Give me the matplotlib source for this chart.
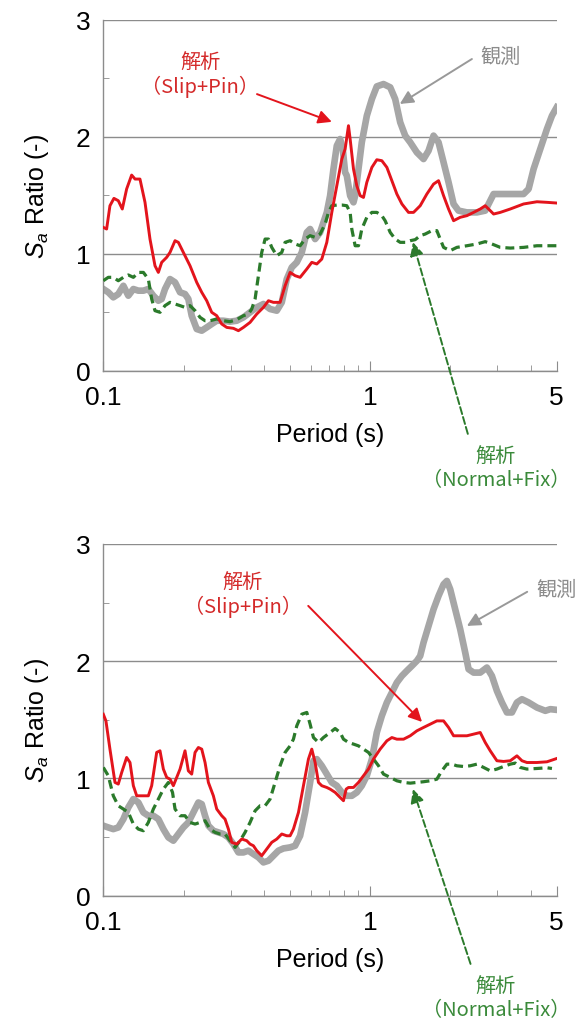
# -*- coding: utf-8 -*-
"""
    Sa ratio spectra : observation vs analyses (two cases)
"""

import matplotlib
matplotlib.use("Agg")
import matplotlib.pyplot as plt
from matplotlib.ticker import FixedLocator, NullFormatter

#========== DATA ==========#

# top panel
period_obs_1 = [0.100, 0.1044, 0.1090, 0.1138, 0.1189, 0.1241, 0.1296, 0.1353, 0.1413, 0.1475,
                0.1540, 0.1608, 0.1655, 0.1703, 0.1778, 0.1857, 0.1939, 0.2024, 0.2083, 0.2144,
                0.2239, 0.2338, 0.2441, 0.2548, 0.2661, 0.2818, 0.2985, 0.3162, 0.3350, 0.3548,
                0.3758, 0.3981, 0.4217, 0.4467, 0.4664, 0.4870, 0.5084, 0.5309, 0.5543, 0.5788,
                0.5957, 0.6219, 0.6494, 0.6683, 0.6879, 0.7079, 0.7286, 0.7499, 0.7718, 0.7893,
                0.8058, 0.8175, 0.8414, 0.8660, 0.8785, 0.9041, 0.9305, 0.9716, 1.015, 1.059,
                1.122, 1.189, 1.241, 1.296, 1.353, 1.413, 1.496, 1.585, 1.655, 1.728,
                1.804, 1.884, 1.967, 2.054, 2.144, 2.304, 2.512, 2.699, 2.818, 2.901,
                3.162, 3.447, 3.758, 3.924, 4.097, 4.340, 4.597, 4.800, 5.0]
ratio_obs_1 = [0.698, 0.670, 0.627, 0.655, 0.726, 0.641, 0.698, 0.684, 0.684, 0.698,
               0.641, 0.598, 0.613, 0.698, 0.783, 0.755, 0.670, 0.655, 0.613, 0.470,
               0.356, 0.342, 0.370, 0.399, 0.427, 0.427, 0.419, 0.427, 0.456, 0.499,
               0.541, 0.570, 0.527, 0.513, 0.584, 0.783, 0.883, 0.926, 1.011, 1.182,
               1.211, 1.125, 1.182, 1.268, 1.353, 1.496, 1.724, 1.923, 1.980, 1.895,
               1.695, 1.667, 1.496, 1.439, 1.496, 1.724, 1.952, 2.179, 2.322, 2.430,
               2.450, 2.422, 2.322, 2.123, 2.009, 1.952, 1.866, 1.809, 1.880, 2.009,
               1.952, 1.781, 1.610, 1.425, 1.368, 1.353, 1.353, 1.368, 1.453, 1.510,
               1.510, 1.510, 1.510, 1.553, 1.724, 1.895, 2.066, 2.179, 2.251]

period_slip_1 = [0.100, 0.1029, 0.1059, 0.1096, 0.1138, 0.1178, 0.1223, 0.1277, 0.1315, 0.1372,
                 0.1433, 0.1496, 0.1562, 0.1608, 0.1655, 0.1728, 0.1778, 0.1857, 0.1911, 0.1995,
                 0.2113, 0.2239, 0.2338, 0.2441, 0.2548, 0.2661, 0.2778, 0.2901, 0.3073, 0.3208,
                 0.3350, 0.3548, 0.3758, 0.3981, 0.4157, 0.4340, 0.4597, 0.4800, 0.5012, 0.5233,
                 0.5464, 0.5788, 0.6043, 0.6310, 0.6588, 0.6879, 0.7182, 0.7499, 0.7830, 0.8058,
                 0.8294, 0.8414, 0.8660, 0.8912, 0.9173, 0.9440, 0.9716, 1.015, 1.059, 1.106,
                 1.155, 1.206, 1.259, 1.315, 1.392, 1.454, 1.540, 1.631, 1.728, 1.804,
                 1.884, 1.967, 2.054, 2.175, 2.304, 2.441, 2.585, 2.699, 2.818, 2.901,
                 3.073, 3.350, 3.758, 4.217, 4.597, 5.0]
ratio_slip_1 = [1.225, 1.211, 1.410, 1.473, 1.453, 1.382, 1.553, 1.672, 1.638, 1.638,
                1.439, 1.125, 0.897, 0.840, 0.926, 0.969, 1.011, 1.111, 1.097, 1.011,
                0.897, 0.755, 0.670, 0.598, 0.499, 0.470, 0.399, 0.370, 0.362, 0.342,
                0.370, 0.413, 0.484, 0.541, 0.598, 0.584, 0.584, 0.726, 0.840, 0.812,
                0.798, 0.869, 0.926, 0.912, 0.954, 1.097, 1.353, 1.581, 1.809, 1.895,
                2.094, 1.980, 1.724, 1.581, 1.496, 1.481, 1.610, 1.738, 1.803, 1.795,
                1.738, 1.624, 1.510, 1.425, 1.353, 1.353, 1.410, 1.510, 1.595, 1.624,
                1.496, 1.382, 1.282, 1.311, 1.325, 1.353, 1.382, 1.410, 1.368, 1.339,
                1.353, 1.382, 1.425, 1.444, 1.439, 1.433]

period_fix_1 = [0.100, 0.1044, 0.1090, 0.1138, 0.1189, 0.1241, 0.1296, 0.1353, 0.1413, 0.1475,
                0.1518, 0.1562, 0.1631, 0.1703, 0.1778, 0.1857, 0.1939, 0.2024, 0.2113, 0.2207,
                0.2304, 0.2406, 0.2512, 0.2661, 0.2818, 0.2985, 0.3162, 0.3350, 0.3497, 0.3599,
                0.3705, 0.3813, 0.3924, 0.4039, 0.4157, 0.4278, 0.4467, 0.4664, 0.4800, 0.5012,
                0.5233, 0.5464, 0.5705, 0.5957, 0.6219, 0.6494, 0.6780, 0.6978, 0.7182, 0.7499,
                0.7830, 0.8175, 0.8414, 0.8535, 0.8785, 0.9041, 0.9305, 0.9716, 1.015, 1.059,
                1.106, 1.138, 1.189, 1.241, 1.296, 1.353, 1.413, 1.475, 1.540, 1.608,
                1.703, 1.778, 1.830, 1.884, 1.995, 2.113, 2.304, 2.512, 2.699, 2.859,
                3.073, 3.350, 3.758, 4.217, 5.0]
ratio_fix_1 = [0.769, 0.798, 0.798, 0.769, 0.798, 0.818, 0.798, 0.840, 0.840, 0.783,
               0.613, 0.513, 0.499, 0.556, 0.584, 0.570, 0.556, 0.541, 0.556, 0.513,
               0.456, 0.427, 0.427, 0.442, 0.427, 0.419, 0.436, 0.470, 0.484, 0.527,
               0.613, 0.812, 1.011, 1.125, 1.125, 1.054, 0.983, 1.011, 1.097, 1.111,
               1.083, 1.068, 1.125, 1.154, 1.140, 1.168, 1.254, 1.353, 1.410, 1.416,
               1.416, 1.410, 1.353, 1.211, 1.068, 1.068, 1.211, 1.311, 1.353, 1.353,
               1.325, 1.282, 1.182, 1.125, 1.097, 1.097, 1.111, 1.120, 1.154, 1.168,
               1.197, 1.197, 1.125, 1.054, 1.026, 1.054, 1.068, 1.083, 1.103, 1.083,
               1.054, 1.048, 1.054, 1.068, 1.068]

# bottom panel
period_obs_2 = [0.100, 0.1044, 0.1090, 0.1138, 0.1189, 0.1241, 0.1296, 0.1353, 0.1413, 0.1475,
                0.1540, 0.1608, 0.1679, 0.1753, 0.1830, 0.1911, 0.1995, 0.2083, 0.2175, 0.2271,
                0.2338, 0.2406, 0.2476, 0.2585, 0.2699, 0.2818, 0.2943, 0.3073, 0.3208, 0.3350,
                0.3497, 0.3652, 0.3813, 0.3981, 0.4157, 0.4340, 0.4532, 0.4732, 0.5012, 0.5233,
                0.5464, 0.5705, 0.5957, 0.6131, 0.6310, 0.6588, 0.6879, 0.7182, 0.7499, 0.7830,
                0.8175, 0.8535, 0.8912, 0.9305, 0.9716, 1.015, 1.059, 1.106, 1.155, 1.206,
                1.259, 1.315, 1.372, 1.433, 1.496, 1.540, 1.585, 1.655, 1.728, 1.804,
                1.884, 1.939, 1.995, 2.083, 2.175, 2.271, 2.338, 2.441, 2.585, 2.738,
                2.859, 2.985, 3.117, 3.255, 3.398, 3.548, 3.705, 3.924, 4.217, 4.532,
                4.732, 5.0]
ratio_obs_2 = [0.597, 0.582, 0.568, 0.582, 0.653, 0.753, 0.824, 0.795, 0.710, 0.682,
               0.682, 0.653, 0.568, 0.497, 0.469, 0.526, 0.582, 0.625, 0.710, 0.795,
               0.781, 0.682, 0.597, 0.554, 0.540, 0.526, 0.497, 0.440, 0.369, 0.369,
               0.384, 0.355, 0.327, 0.284, 0.298, 0.341, 0.384, 0.403, 0.412, 0.426,
               0.511, 0.710, 0.966, 1.151, 1.165, 1.108, 1.037, 0.966, 0.938, 0.881,
               0.852, 0.852, 0.881, 0.938, 1.023, 1.165, 1.392, 1.534, 1.648, 1.733,
               1.818, 1.875, 1.918, 1.960, 2.003, 2.045, 2.159, 2.301, 2.443, 2.557,
               2.656, 2.685, 2.614, 2.443, 2.273, 2.074, 1.932, 1.903, 1.903, 1.946,
               1.875, 1.747, 1.648, 1.563, 1.563, 1.648, 1.676, 1.648, 1.605, 1.577,
               1.591, 1.585]

period_slip_2 = [0.100, 0.1023, 0.1059, 0.1106, 0.1138, 0.1172, 0.1223, 0.1259, 0.1296, 0.1334,
                 0.1413, 0.1475, 0.1518, 0.1585, 0.1631, 0.1679, 0.1728, 0.1778, 0.1830, 0.1884,
                 0.1939, 0.2024, 0.2083, 0.2144, 0.2207, 0.2271, 0.2338, 0.2406, 0.2476, 0.2585,
                 0.2661, 0.2778, 0.2859, 0.2943, 0.3029, 0.3162, 0.3302, 0.3447, 0.3548, 0.3652,
                 0.3758, 0.3924, 0.4097, 0.4278, 0.4467, 0.4664, 0.4870, 0.5012, 0.5158, 0.5386,
                 0.5623, 0.5871, 0.6043, 0.6219, 0.6401, 0.6588, 0.6879, 0.7079, 0.7392, 0.7718,
                 0.7943, 0.8128, 0.8294, 0.8660, 0.9041, 0.9440, 0.9857, 1.029, 1.090, 1.155,
                 1.206, 1.259, 1.334, 1.413, 1.496, 1.585, 1.679, 1.778, 1.884, 1.967,
                 2.054, 2.175, 2.304, 2.441, 2.585, 2.699, 2.818, 2.985, 3.162, 3.350,
                 3.548, 3.705, 3.868, 4.217, 4.597, 5.0]
ratio_slip_2 = [1.548, 1.491, 1.250, 0.966, 0.952, 1.051, 1.179, 1.136, 0.938, 0.852,
                0.852, 0.852, 0.938, 1.222, 1.236, 1.080, 1.009, 0.994, 0.938, 1.009,
                1.080, 1.236, 1.065, 1.037, 1.222, 1.264, 1.250, 1.136, 0.966, 0.852,
                0.739, 0.682, 0.653, 0.568, 0.455, 0.440, 0.483, 0.469, 0.440, 0.426,
                0.384, 0.341, 0.398, 0.455, 0.483, 0.526, 0.511, 0.511, 0.568, 0.710,
                0.938, 1.165, 1.250, 1.136, 0.966, 0.938, 0.923, 0.909, 0.881, 0.838,
                0.810, 0.909, 0.923, 0.923, 0.966, 1.023, 1.080, 1.165, 1.250, 1.321,
                1.349, 1.335, 1.335, 1.364, 1.406, 1.435, 1.463, 1.491, 1.491, 1.435,
                1.364, 1.364, 1.364, 1.378, 1.392, 1.307, 1.236, 1.151, 1.145, 1.151,
                1.193, 1.151, 1.136, 1.136, 1.142, 1.170]

period_fix_2 = [0.100, 0.1044, 0.1090, 0.1138, 0.1189, 0.1241, 0.1296, 0.1353, 0.1413, 0.1475,
                0.1540, 0.1608, 0.1679, 0.1753, 0.1817, 0.1857, 0.1939, 0.2024, 0.2113, 0.2207,
                0.2304, 0.2406, 0.2512, 0.2623, 0.2738, 0.2859, 0.2985, 0.3117, 0.3255, 0.3398,
                0.3548, 0.3705, 0.3868, 0.4039, 0.4217, 0.4403, 0.4597, 0.4800, 0.5012, 0.5158,
                0.5309, 0.5543, 0.5788, 0.5957, 0.6131, 0.6401, 0.6683, 0.7079, 0.7392, 0.7718,
                0.7943, 0.8294, 0.8660, 0.9041, 0.9440, 0.9857, 1.029, 1.075, 1.122, 1.189,
                1.259, 1.334, 1.413, 1.496, 1.585, 1.679, 1.778, 1.857, 1.939, 2.024,
                2.113, 2.239, 2.371, 2.512, 2.661, 2.818, 2.985, 3.162, 3.350, 3.497,
                3.652, 3.868, 4.217, 4.597, 4.800]
ratio_fix_2 = [1.094, 1.023, 0.852, 0.767, 0.739, 0.710, 0.611, 0.568, 0.554, 0.625,
               0.739, 0.824, 0.909, 0.966, 0.881, 0.739, 0.682, 0.682, 0.625, 0.611,
               0.625, 0.639, 0.568, 0.540, 0.526, 0.526, 0.469, 0.412, 0.469, 0.540,
               0.625, 0.724, 0.767, 0.767, 0.824, 0.966, 1.108, 1.222, 1.278, 1.335,
               1.449, 1.548, 1.563, 1.463, 1.349, 1.307, 1.349, 1.392, 1.426, 1.392,
               1.335, 1.307, 1.293, 1.278, 1.250, 1.222, 1.165, 1.108, 1.037, 1.009,
               0.980, 0.966, 0.960, 0.966, 0.972, 0.980, 0.994, 1.065, 1.122, 1.122,
               1.108, 1.102, 1.108, 1.122, 1.094, 1.065, 1.080, 1.102, 1.122, 1.131,
               1.094, 1.080, 1.085, 1.091, 1.085]

x_ticks = [0.1, 1, 5]
x_tick_labels = ["0.1", "1", "5"]
x_minor = [0.2, 0.3, 0.4, 0.5, 0.6, 0.7, 0.8, 0.9, 2, 3, 4]
y_ticks = [0, 1, 2, 3]
y_minor = [0.5, 1.5, 2.5]

#======== STYLE =========#

plt.rcParams['font.family'] = ['Liberation Sans', 'DejaVu Sans']
plt.rcParams['mathtext.fontset'] = 'custom'
plt.rcParams['mathtext.it'] = 'Liberation Sans:italic'
plt.rcParams['mathtext.rm'] = 'Liberation Sans'

JP = ['Noto Sans CJK JP', 'DejaVu Sans']
C_OBS = '#a6a6a6'
C_SLIP = '#e3141c'
C_FIX = '#2b7a2b'
C_AX = '#8c8c8c'
ANNOT_SIZE = 14.5


def setup_axes(ax):
    """
        Axes log, grille horizontale, ticks vers l'interieur
    """
    ax.set_xscale('log')
    ax.set_xlim(0.1, 5)
    ax.set_ylim(0, 3)
    ax.xaxis.set_major_locator(FixedLocator(x_ticks))
    ax.set_xticklabels(x_tick_labels)
    ax.xaxis.set_minor_locator(FixedLocator(x_minor))
    ax.xaxis.set_minor_formatter(NullFormatter())
    ax.yaxis.set_major_locator(FixedLocator(y_ticks))
    ax.yaxis.set_minor_locator(FixedLocator(y_minor))
    for side in ('top', 'right'):
        ax.spines[side].set_visible(False)
    for side in ('left', 'bottom'):
        ax.spines[side].set_color(C_AX)
        ax.spines[side].set_linewidth(1.0)
    ax.grid(axis='y', which='major', color=C_AX, lw=1.0)
    ax.tick_params(axis='both', which='both', direction='in', colors=C_AX,
                   labelcolor='black', labelsize=19)
    ax.tick_params(axis='x', which='major', length=7, pad=10)
    ax.tick_params(axis='x', which='minor', length=4)
    ax.tick_params(axis='y', which='major', length=0, pad=9)
    ax.tick_params(axis='y', which='minor', length=4)
    ax.set_xlabel('Period (s)', fontsize=18, labelpad=10)
    ax.set_ylabel(r'$S_a$ Ratio (-)', fontsize=18, labelpad=18)
    ax.set_axisbelow(True)


def draw_curves(ax, p_obs, r_obs, p_slip, r_slip, p_fix, r_fix):
    ax.plot(p_obs, r_obs, color=C_OBS, lw=4.8, solid_joinstyle='round', zorder=2)
    ax.plot(p_fix, r_fix, color=C_FIX, lw=2.3, dashes=(2.8, 1.6), zorder=3)
    ax.plot(p_slip, r_slip, color=C_SLIP, lw=2.1, zorder=4)


def arrow(ax, tail, head, color, ls='-'):
    ax.annotate('', xy=head, xytext=tail, xycoords='axes fraction',
                textcoords='axes fraction', annotation_clip=False,
                arrowprops=dict(arrowstyle='-|>', color=color, lw=1.4, ls=ls,
                                mutation_scale=20, shrinkA=0, shrinkB=0))


#======== MAIN =========#

fig = plt.figure(figsize=(5.82, 10.2), dpi=100)
ax1 = fig.add_axes([0.1775, 0.6356, 0.779, 0.3441])
ax2 = fig.add_axes([0.1775, 0.1209, 0.779, 0.3448])

for ax in (ax1, ax2):
    setup_axes(ax)

draw_curves(ax1, period_obs_1, ratio_obs_1, period_slip_1, ratio_slip_1,
            period_fix_1, ratio_fix_1)
draw_curves(ax2, period_obs_2, ratio_obs_2, period_slip_2, ratio_slip_2,
            period_fix_2, ratio_fix_2)

# annotations panneau haut
ax1.text(0.214, 0.845, '解析\n（Slip+Pin）', transform=ax1.transAxes, ha='center',
         va='center', color='#d42a2a', fontsize=ANNOT_SIZE, family=JP, linespacing=1.2)
arrow(ax1, (0.339, 0.788), (0.504, 0.709), C_SLIP)
ax1.text(0.875, 0.896, '観測', transform=ax1.transAxes, ha='center', va='center',
         color='#8c8c8c', fontsize=ANNOT_SIZE, family=JP)
arrow(ax1, (0.813, 0.888), (0.654, 0.760), '#999999')
arrow(ax1, (0.804, -0.180), (0.683, 0.366), C_FIX, ls='--')
ax1.text(0.866, -0.275, '解析\n（Normal+Fix）', transform=ax1.transAxes, ha='center',
         va='center', color='#3a8a3a', fontsize=ANNOT_SIZE, family=JP, linespacing=1.2)

# annotations panneau bas
ax2.text(0.308, 0.858, '解析\n（Slip+Pin）', transform=ax2.transAxes, ha='center',
         va='center', color='#d42a2a', fontsize=ANNOT_SIZE, family=JP, linespacing=1.2)
arrow(ax2, (0.452, 0.824), (0.703, 0.494), C_SLIP)
ax2.text(1.0, 0.872, '観測', transform=ax2.transAxes, ha='center', va='center',
         color='#8c8c8c', fontsize=ANNOT_SIZE, family=JP)
arrow(ax2, (0.935, 0.864), (0.802, 0.767), '#999999')
arrow(ax2, (0.81, -0.194), (0.683, 0.303), C_FIX, ls='--')
ax2.text(0.866, -0.29, '解析\n（Normal+Fix）', transform=ax2.transAxes, ha='center',
         va='center', color='#3a8a3a', fontsize=ANNOT_SIZE, family=JP, linespacing=1.2)

fig.savefig('out.png', dpi=100)
